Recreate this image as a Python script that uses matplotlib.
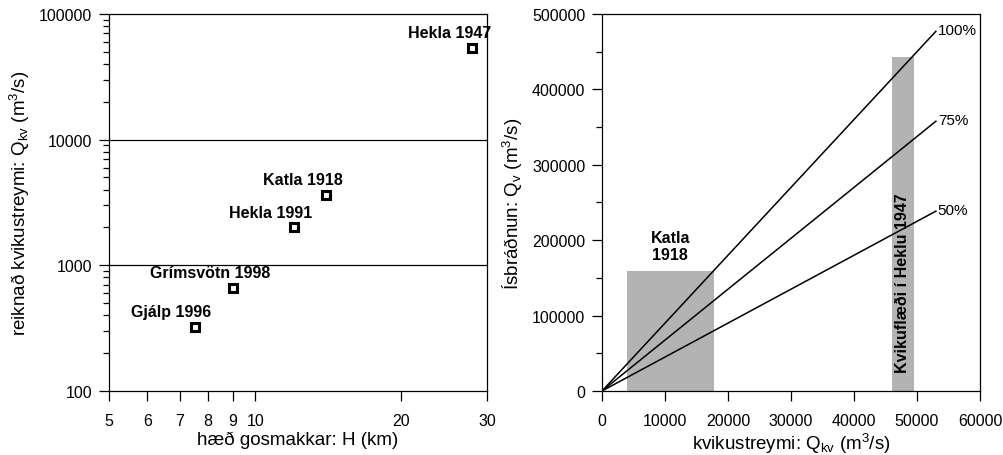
import numpy as np
import matplotlib
matplotlib.use('Agg')
import matplotlib.pyplot as plt
from matplotlib.ticker import FixedLocator, NullLocator, LogLocator, MultipleLocator, NullFormatter

plt.rcParams['font.family'] = ['Liberation Sans', 'DejaVu Sans']
plt.rcParams['mathtext.fontset'] = 'custom'
plt.rcParams['mathtext.rm'] = 'Liberation Sans'
plt.rcParams['mathtext.it'] = 'Liberation Sans'
plt.rcParams['mathtext.bf'] = 'Liberation Sans:bold'

# left panel data: plume height vs calculated magma flux
eruptions = ['Gjálp 1996', 'Grímsvötn 1998', 'Hekla 1991', 'Katla 1918', 'Hekla 1947']
height_km = [7.5, 9.0, 12.0, 14.0, 28.0]
magma_flux = [325, 660, 2000, 3630, 53600]

# right panel data: ice melting lines
pct_labels = ['100%', '75%', '50%']
pct_fraction = [1.0, 0.75, 0.5]
melt_per_flux = 9.0  # m3 ice per m3 magma at 100%
line_x = [0, 53000]

# shaded ranges
katla_range = [4000, 17700]
katla_melt = 159000
hekla_range = [46000, 49500]
hekla_melt = 443000

fig = plt.figure(figsize=(10.04, 4.56), dpi=100)
ax1 = fig.add_axes([0.1086, 0.1404, 0.3765, 0.8268])
ax2 = fig.add_axes([0.5996, 0.1404, 0.3765, 0.8268])

# ---- left plot
ax1.set_xscale('log')
ax1.set_yscale('log')
ax1.set_xlim(5, 30)
ax1.set_ylim(100, 100000)
ax1.axhline(1000, color='black', lw=0.9)
ax1.axhline(10000, color='black', lw=0.9)
ax1.plot(height_km, magma_flux, 's', ms=5.5, mfc='white', mec='black', mew=2.2, ls='none')
for name, x, y in zip(eruptions, height_km, magma_flux):
    ax1.annotate(name, (x, y), xytext=(-23, 15), textcoords='offset pixels',
                 ha='center', va='center', fontsize=11.5, fontweight='bold')

xt = [5, 6, 7, 8, 9, 10, 20, 30]
ax1.xaxis.set_major_locator(FixedLocator(xt))
ax1.xaxis.set_minor_locator(NullLocator())
ax1.set_xticklabels([str(v) for v in xt])
ax1.yaxis.set_major_locator(FixedLocator([100, 1000, 10000, 100000]))
ax1.yaxis.set_minor_locator(LogLocator(base=10, subs=np.arange(2, 10)))
ax1.yaxis.set_minor_formatter(NullFormatter())
ax1.set_yticklabels(['100', '1000', '10000', '100000'])
ax1.set_xlabel('hæð gosmakkar: H (km)', fontsize=13.5, labelpad=2)
ax1.set_ylabel(r'reiknað kvikustreymi: Q$_{\mathrm{kv}}$ (m$^3$/s)', fontsize=13.5, labelpad=5)

# ---- right plot
ax2.set_xlim(0, 60000)
ax2.set_ylim(0, 500000)
ax2.bar(np.mean(katla_range), katla_melt, width=katla_range[1] - katla_range[0],
        color='#b3b3b3', edgecolor='none', zorder=1)
ax2.bar(np.mean(hekla_range), hekla_melt, width=hekla_range[1] - hekla_range[0],
        color='#b3b3b3', edgecolor='none', zorder=1)
for lab, f in zip(pct_labels, pct_fraction):
    ys = [f * melt_per_flux * x for x in line_x]
    ax2.plot(line_x, ys, color='black', lw=1.1, zorder=2)
    ax2.text(line_x[1] + 300, ys[1] + 2000, lab, ha='left', va='center', fontsize=11)
ax2.text(np.mean(katla_range), katla_melt + 12000, 'Katla\n1918', ha='center', va='bottom',
         fontsize=11.5, fontweight='bold', linespacing=1.2)
ax2.text(np.mean(hekla_range), 145000, 'Kvikuflæði í Heklu 1947', rotation=90,
         ha='center', va='center', fontsize=11.5, fontweight='bold', zorder=3)

ax2.xaxis.set_major_locator(MultipleLocator(10000))
ax2.yaxis.set_major_locator(MultipleLocator(100000))
ax2.yaxis.set_minor_locator(MultipleLocator(50000))
ax2.set_xlabel(r'kvikustreymi: Q$_{\mathrm{kv}}$ (m$^3$/s)', fontsize=13.5, labelpad=2)
ax2.set_ylabel(r'Ísbráðnun: Q$_{\mathrm{v}}$ (m$^3$/s)', fontsize=13.5, labelpad=5)

for ax in (ax1, ax2):
    ax.tick_params(which='major', direction='out', length=7, width=0.9, labelsize=11.5, pad=5)
    ax.tick_params(which='minor', direction='out', length=4, width=0.9)
    ax.tick_params(axis='x', which='major', pad=9)
    ax.tick_params(top=False, right=False, which='both')
    for s in ax.spines.values():
        s.set_linewidth(0.9)

fig.savefig('out.png', dpi=100)
